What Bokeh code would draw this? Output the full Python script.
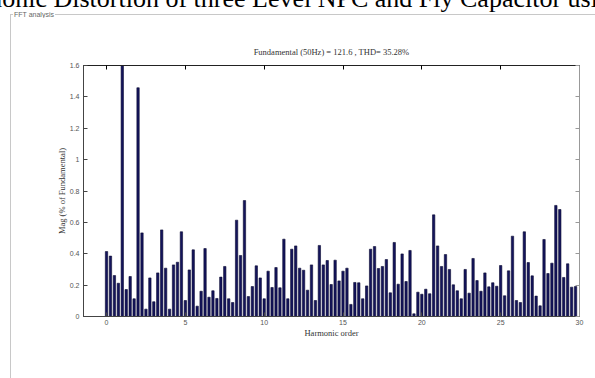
from bokeh.plotting import figure
from bokeh.models import Range1d, LinearAxis, FixedTicker, Div, Spacer
from bokeh.layouts import column, row
from bokeh.embed import file_html
from bokeh.resources import INLINE
import numpy as np

# FFT spectrum, 12.5 Hz resolution (0.25 of the 50 Hz fundamental)
harmonic_order = np.arange(0, 30, 0.25)
mag_pct = [
    0.414, 0.385, 0.261, 0.212, 100.0, 0.172, 0.255, 0.113, 1.458, 0.533,
    0.047, 0.246, 0.094, 0.278, 0.552, 0.308, 0.047, 0.329, 0.346, 0.540,
    0.102, 0.297, 0.425, 0.066, 0.161, 0.433, 0.123, 0.164, 0.115, 0.251,
    0.319, 0.113, 0.089, 0.614, 0.389, 0.739, 0.127, 0.191, 0.323, 0.246,
    0.113, 0.289, 0.185, 0.312, 0.183, 0.493, 0.113, 0.429, 0.450, 0.308,
    0.295, 0.168, 0.329, 0.102, 0.453, 0.329, 0.357, 0.204, 0.359, 0.227,
    0.289, 0.308, 0.077, 0.217, 0.215, 0.113, 0.195, 0.429, 0.446, 0.306,
    0.319, 0.363, 0.151, 0.472, 0.206, 0.399, 0.223, 0.421, 0.017, 0.155,
    0.142, 0.174, 0.145, 0.648, 0.450, 0.319, 0.395, 0.300, 0.202, 0.164,
    0.113, 0.300, 0.149, 0.370, 0.229, 0.161, 0.278, 0.189, 0.215, 0.193,
    0.325, 0.132, 0.291, 0.512, 0.102, 0.089, 0.540, 0.344, 0.259, 0.130,
    0.068, 0.491, 0.274, 0.340, 0.708, 0.682, 0.249, 0.336, 0.187, 0.191,
]
x_ticks = [0, 5, 10, 15, 20, 25, 30]
y_ticks = [0, 0.2, 0.4, 0.6, 0.8, 1.0, 1.2, 1.4, 1.6]
title_text = "Fundamental (50Hz) = 121.6 , THD= 35.28%"
page_heading = "Harmonic Distortion of three Level NPC and Fly Capacitor using"
panel_name = "FFT analysis"

SERIF = "Liberation Serif"
SANS = "Liberation Sans"
BOX_GRAY = "#c8c8c8"

# ---- heading strip with the top edge of the "FFT analysis" group box ----
heading_html = f"""
<div style="position:relative;width:595px;height:18px;overflow:hidden;background:white;">
  <div style="position:absolute;left:-57px;top:-14px;white-space:nowrap;
              font-family:'{SERIF}';font-size:26px;line-height:26px;color:black;">{page_heading}</div>
  <div style="position:absolute;left:10px;top:14px;width:585px;height:0;
              border-top:1px solid {BOX_GRAY};"></div>
  <div style="position:absolute;left:10px;top:14px;width:0;height:4px;
              border-left:1px solid {BOX_GRAY};"></div>
  <div style="position:absolute;left:13px;top:11px;padding:0 1px;background:white;
              font-family:'{SANS}';font-size:7px;line-height:7px;color:#666666;">{panel_name}</div>
</div>
"""
heading = Div(text=heading_html, width=595, height=18, margin=0)

# ---- spectrum plot ----
p = figure(width=584, height=360, output_backend="svg", toolbar_location=None,
           x_range=Range1d(-1.46, 30), y_range=Range1d(0, 1.6),
           min_border_left=72, min_border_right=16,
           min_border_top=47, min_border_bottom=62, margin=0)
p.background_fill_color = "white"
p.border_fill_color = "white"
p.outline_line_color = "#222222"
p.grid.visible = False

p.vbar(x=harmonic_order, top=mag_pct, width=0.15,
       fill_color="#14145c", line_color="#0a0a30", line_width=0.6)

for ax in (p.xaxis[0], p.yaxis[0]):
    ax.major_tick_in = 4
    ax.major_tick_out = 0
    ax.minor_tick_line_color = None
    ax.axis_line_color = "#444444"
    ax.major_tick_line_color = "#444444"
    ax.major_label_text_font = SANS
    ax.major_label_text_font_size = "7px"
    ax.major_label_text_color = "#555555"
    ax.axis_label_text_font = SERIF
    ax.axis_label_text_font_size = "8.5px"
    ax.axis_label_text_font_style = "normal"
    ax.axis_label_text_color = "#333333"

p.xaxis[0].ticker = FixedTicker(ticks=x_ticks)
p.yaxis[0].ticker = FixedTicker(ticks=y_ticks)
p.yaxis[0].major_label_overrides = {1.0: "1"}
p.xaxis[0].axis_label = "Harmonic order"
p.yaxis[0].axis_label = "Mag (% of Fundamental)"
p.xaxis[0].major_label_standoff = 3
p.xaxis[0].axis_label_standoff = 0
p.yaxis[0].major_label_standoff = 4
p.yaxis[0].axis_label_standoff = 0

top_axis = LinearAxis(ticker=FixedTicker(ticks=x_ticks), major_tick_in=4, major_tick_out=0,
                      minor_tick_line_color=None, major_label_text_color=None,
                      major_label_text_font_size="1px", major_label_standoff=0,
                      axis_line_color="#222222")
right_axis = LinearAxis(ticker=FixedTicker(ticks=y_ticks), major_tick_in=4, major_tick_out=0,
                        minor_tick_line_color=None, major_label_text_color=None,
                        major_label_text_font_size="1px", major_label_standoff=0,
                        axis_line_color="#999999", major_tick_line_color="#999999")
p.add_layout(top_axis, "above")
p.add_layout(right_axis, "right")

p.title.text = title_text
p.title.text_font = SERIF
p.title.text_font_size = "8.5px"
p.title.text_font_style = "normal"
p.title.align = "center"
p.title.text_color = "#333333"
p.title.standoff = 18

# left edge of the group box, then the plot
body = row(Spacer(width=10, height=360, margin=0),
           Spacer(width=1, height=360, margin=0, background=BOX_GRAY),
           p, spacing=0, margin=0)
page = column(heading, body, spacing=0, margin=0, width=595, height=378)

open("out.html", "w").write(file_html(page, INLINE))
